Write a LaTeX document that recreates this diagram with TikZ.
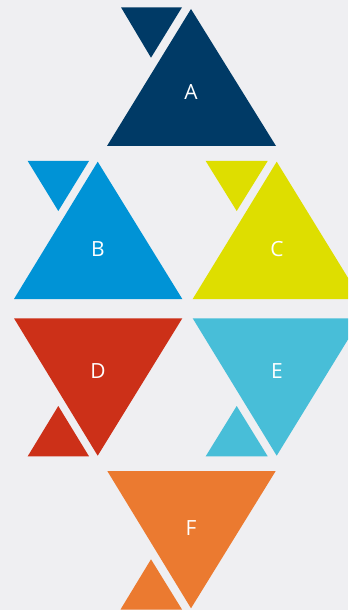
\documentclass[tikz,border=0pt]{standalone}
\usepackage{fontspec}
\setmainfont{Open Sans}
\definecolor{bg}{RGB}{239,239,242}
\definecolor{cA}{RGB}{0,58,102}
\definecolor{cB}{RGB}{0,147,214}
\definecolor{cC}{RGB}{222,222,0}
\definecolor{cD}{RGB}{204,48,24}
\definecolor{cE}{RGB}{72,190,216}
\definecolor{cF}{RGB}{235,122,48}
\tikzset{lbl/.style={text=white,font=\fontsize{21}{25}\selectfont,inner sep=0pt}}
\begin{document}
\begin{tikzpicture}[x=1bp,y=-1bp]
\useasboundingbox (0,0) rectangle (348,610);
\clip (0,0) rectangle (348,610);
\fill[bg] (0,0) rectangle (348,610);
% A
\fill[cA] (191,9) -- (276,146) -- (107,146) -- cycle;
\fill[cA] (121,7.3) -- (182,7.3) -- (151,57.7) -- cycle;
\node[lbl] (A) at (191,92) {A};
% B
\fill[cB] (97.7,161.7) -- (182.3,299) -- (14,299) -- cycle;
\fill[cB] (27.7,161) -- (89,161) -- (58.3,211) -- cycle;
\node[lbl] (B) at (98,249) {B};
% C
\fill[cC] (276.7,161.7) -- (361,299) -- (192.7,299) -- cycle;
\fill[cC] (205.7,161) -- (267.7,161) -- (236.7,211) -- cycle;
\node[lbl] (C) at (277,249) {C};
% D
\fill[cD] (14,318.3) -- (182.3,318.3) -- (97.7,455.7) -- cycle;
\fill[cD] (58.3,406) -- (89,456.3) -- (27.7,456.3) -- cycle;
\node[lbl] (D) at (98,371) {D};
% E
\fill[cE] (192.7,318.3) -- (361,318.3) -- (276.7,455.7) -- cycle;
\fill[cE] (236.7,406) -- (267.7,456.3) -- (205.7,456.3) -- cycle;
\node[lbl] (E) at (277,371) {E};
% F
\fill[cF] (107.3,471) -- (275.7,471) -- (191,608.3) -- cycle;
\fill[cF] (151,559.3) -- (182,609.5) -- (120.5,609.5) -- cycle;
\node[lbl] (F) at (191,528) {F};
\end{tikzpicture}
\end{document}
